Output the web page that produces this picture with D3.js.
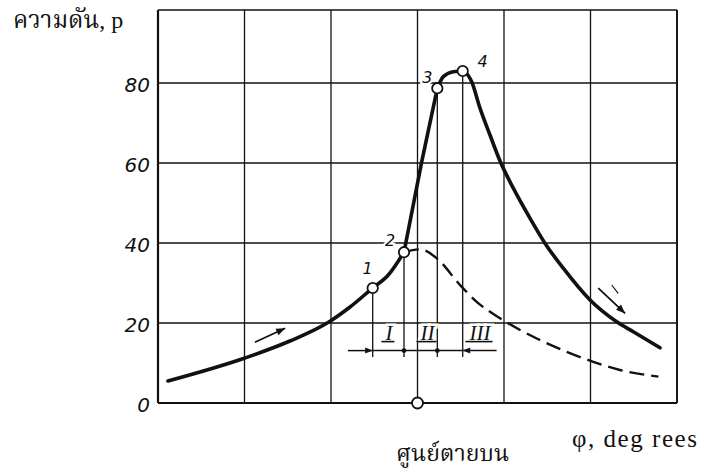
<!DOCTYPE html>
<html>
<head>
<meta charset="utf-8">
<script src="https://cdn.jsdelivr.net/npm/d3@7"></script>
<style>
  html, body { margin: 0; padding: 0; background: #fff; }
  svg { display: block; }
</style>
</head>
<body>
<svg id="chart" width="702" height="468"></svg>
<script>
// Cylinder pressure vs crank angle (degrees from top dead centre)
const yTicks = [0, 20, 40, 60, 80];
const xGrid = [-60, -40, -20, 0, 20, 40, 60];

// Fired cycle (solid curve)
const firedAngle = [-57.7, -39.9, -29.5, -20.5, -15.6, -10.36, -6.75, -3.12,
                    0.97, 4.58, 5.97, 8.28, 10.45,
                    12.53, 14.45, 16.76, 19.08, 22.15, 26.0, 29.5, 33.7, 39.9,
                    46.06, 49.9, 56.07];
const firedPressure = [5.5, 11.25, 15.5, 20.25, 24.0, 28.75, 32.0, 37.7,
                       60.3, 78.7, 81.6, 82.8, 83.0,
                       80.3, 73.7, 67.0, 60.5, 53.7, 46.2, 39.9, 33.7, 25.75,
                       20.3, 17.8, 13.8];
// indices of key points 1..4 within the fired cycle
const keyIndex = [5, 7, 9, 12];
const keyLabels = ["1", "2", "3", "4"];

// Motored cycle (dashed curve), branching off at point 2
const motoredAngle = [-3.12, 0.58, 4.44, 9.83, 13.69, 19.08, 28.3, 34.5, 40.65, 46.8, 55.7];
const motoredPressure = [37.7, 38.4, 36.2, 29.5, 25.3, 21.2, 15.75, 12.8, 10.3, 8.25, 6.6];

// Combustion phases
const phaseLabels = ["I", "II", "III"];
const phaseCentre = [-6.6, 2.3, 14.45];

const svg = d3.select("#chart");
const plotL = 158, plotR = 677, plotT = 10, plotB = 403;

const x = d3.scaleLinear().domain([-60, 60]).range([plotL, plotR]);
const y = d3.scaleLinear().domain([0, 98.25]).range([plotB, plotT]);

const ink = "#111";
const defs = svg.append("defs");
defs.append("marker")
  .attr("id", "head")
  .attr("viewBox", "0 0 10 10")
  .attr("refX", 10).attr("refY", 5)
  .attr("markerWidth", 6).attr("markerHeight", 5)
  .attr("markerUnits", "strokeWidth")
  .attr("orient", "auto")
  .append("path").attr("d", "M0,1 L10,5 L0,9 Z").attr("fill", ink);

// Grid
const grid = svg.append("g").attr("stroke", ink).attr("stroke-width", 1.3);
grid.selectAll("line.v").data(xGrid).join("line")
  .attr("x1", d => x(d)).attr("x2", d => x(d))
  .attr("y1", plotT).attr("y2", plotB);
grid.selectAll("line.h").data(yTicks.concat([98.25])).join("line")
  .attr("x1", plotL).attr("x2", plotR)
  .attr("y1", d => y(d)).attr("y2", d => y(d));

// Frame emphasis: left, bottom and right edges
svg.append("line").attr("x1", plotL).attr("x2", plotL).attr("y1", plotT).attr("y2", plotB)
  .attr("stroke", ink).attr("stroke-width", 2.2);
svg.append("line").attr("x1", plotL).attr("x2", plotR).attr("y1", plotB).attr("y2", plotB)
  .attr("stroke", ink).attr("stroke-width", 2.2);
svg.append("line").attr("x1", plotR).attr("x2", plotR).attr("y1", plotT).attr("y2", plotB)
  .attr("stroke", ink).attr("stroke-width", 1.8);

// Y tick labels
svg.append("g").selectAll("text").data(yTicks).join("text")
  .attr("x", plotL - 8).attr("y", d => y(d) + 8.5)
  .attr("text-anchor", "end")
  .attr("font-family", "DejaVu Sans, sans-serif")
  .attr("font-style", "italic")
  .attr("font-size", 20)
  .attr("fill", ink)
  .text(d => d);

// Drop lines from key points to the phase bracket
const bracketP = 13.1, dropP = 11.5;
svg.append("g").attr("stroke", ink).attr("stroke-width", 1.3)
  .selectAll("line").data(keyIndex).join("line")
  .attr("x1", i => x(firedAngle[i])).attr("x2", i => x(firedAngle[i]))
  .attr("y1", i => y(firedPressure[i])).attr("y2", y(dropP));

// Phase bracket with inward arrows
const bracketLeft = -16.1, bracketRight = 18.3;
const p1 = firedAngle[keyIndex[0]], p4 = firedAngle[keyIndex[3]];
svg.append("line")
  .attr("x1", x(bracketLeft)).attr("x2", x(p1))
  .attr("y1", y(bracketP)).attr("y2", y(bracketP))
  .attr("stroke", ink).attr("stroke-width", 1.5).attr("marker-end", "url(#head)");
svg.append("line")
  .attr("x1", x(p1)).attr("x2", x(p4))
  .attr("y1", y(bracketP)).attr("y2", y(bracketP))
  .attr("stroke", ink).attr("stroke-width", 1.5);
svg.append("line")
  .attr("x1", x(bracketRight)).attr("x2", x(p4))
  .attr("y1", y(bracketP)).attr("y2", y(bracketP))
  .attr("stroke", ink).attr("stroke-width", 1.5).attr("marker-end", "url(#head)");
svg.append("g").selectAll("circle").data([keyIndex[1], keyIndex[2]]).join("circle")
  .attr("cx", i => x(firedAngle[i])).attr("cy", y(bracketP)).attr("r", 2.4)
  .attr("fill", ink);

// Phase labels (underlined italic numerals)
const phaseG = svg.append("g");
phaseG.selectAll("text").data(phaseLabels).join("text")
  .attr("x", (d, i) => x(phaseCentre[i])).attr("y", y(bracketP) - 11)
  .attr("text-anchor", "middle")
  .attr("font-family", "Liberation Serif, serif")
  .attr("font-style", "italic")
  .attr("font-size", 21)
  .attr("fill", ink)
  .attr("stroke", "#fff").attr("stroke-width", 5).attr("paint-order", "stroke")
  .text(d => d);
phaseG.selectAll("line").data(phaseLabels).join("line")
  .attr("x1", (d, i) => x(phaseCentre[i]) - 4 - d.length * 3.5)
  .attr("x2", (d, i) => x(phaseCentre[i]) + 2 + d.length * 3.5)
  .attr("y1", y(bracketP) - 9).attr("y2", y(bracketP) - 9)
  .attr("stroke", ink).attr("stroke-width", 1.6);

// Curves
const line = d3.line().x(d => x(d[0])).y(d => y(d[1])).curve(d3.curveMonotoneX);
const fired = firedAngle.map((a, i) => [a, firedPressure[i]]);
const motored = motoredAngle.map((a, i) => [a, motoredPressure[i]]);

svg.append("path").datum(motored)
  .attr("d", line)
  .attr("fill", "none").attr("stroke", ink).attr("stroke-width", 2.4)
  .attr("stroke-dasharray", "15,7");

// fired cycle drawn piecewise so the kinks at points 2 and 3 stay sharp
const breaks = [0, keyIndex[1], keyIndex[2], fired.length - 1];
for (let s = 0; s < breaks.length - 1; s++) {
  svg.append("path").datum(fired.slice(breaks[s], breaks[s + 1] + 1))
    .attr("d", line)
    .attr("fill", "none").attr("stroke", ink).attr("stroke-width", 3.6)
    .attr("stroke-linecap", "round").attr("stroke-linejoin", "round");
}

// Key point markers and numbers
const keyOffset = [[-5, -14], [-14, -6], [-10, -5], [20, -4]];
svg.append("g").selectAll("circle").data(keyIndex).join("circle")
  .attr("cx", i => x(firedAngle[i])).attr("cy", i => y(firedPressure[i]))
  .attr("r", 5.2).attr("fill", "#fff").attr("stroke", ink).attr("stroke-width", 1.8);
svg.append("g").selectAll("text").data(keyIndex).join("text")
  .attr("x", (i, k) => x(firedAngle[i]) + keyOffset[k][0])
  .attr("y", (i, k) => y(firedPressure[i]) + keyOffset[k][1])
  .attr("text-anchor", "middle")
  .attr("font-family", "DejaVu Sans, sans-serif")
  .attr("font-style", "italic")
  .attr("font-size", 16)
  .attr("fill", ink)
  .attr("stroke", "#fff").attr("stroke-width", 4).attr("paint-order", "stroke")
  .text((i, k) => keyLabels[k]);

// Top dead centre marker
svg.append("circle").attr("cx", x(0)).attr("cy", y(0)).attr("r", 5.5)
  .attr("fill", "#fff").attr("stroke", ink).attr("stroke-width", 1.8);

// Direction-of-travel arrows along the cycle
const flowArrows = [[[-37.6, 15.2], [-30.6, 18.7]], [[41.8, 28.7], [48.0, 22.4]]];
svg.append("g").selectAll("line").data(flowArrows).join("line")
  .attr("x1", d => x(d[0][0])).attr("y1", d => y(d[0][1]))
  .attr("x2", d => x(d[1][0])).attr("y2", d => y(d[1][1]))
  .attr("stroke", ink).attr("stroke-width", 1.8).attr("marker-end", "url(#head)");
svg.append("line")
  .attr("x1", x(44.9)).attr("y1", y(29.5)).attr("x2", x(46.4)).attr("y2", y(27.4))
  .attr("stroke", ink).attr("stroke-width", 1.2);

// Titles
const serif = "Liberation Serif, Noto Serif Thai, Noto Sans Thai, serif";
svg.append("text").attr("x", 13).attr("y", 28)
  .attr("font-family", serif).attr("font-size", 24)
  .attr("fill", ink).text("ความดัน, p");
svg.append("text").attr("x", 572).attr("y", 446.5)
  .attr("font-family", serif).attr("font-size", 25)
  .attr("textLength", 125).attr("lengthAdjust", "spacing")
  .attr("fill", ink).text("φ, deg rees");
svg.append("text").attr("x", 396).attr("y", 461)
  .attr("font-family", serif).attr("font-size", 23)
  .attr("fill", ink).text("ศูนย์ตายบน");
</script>
</body>
</html>
